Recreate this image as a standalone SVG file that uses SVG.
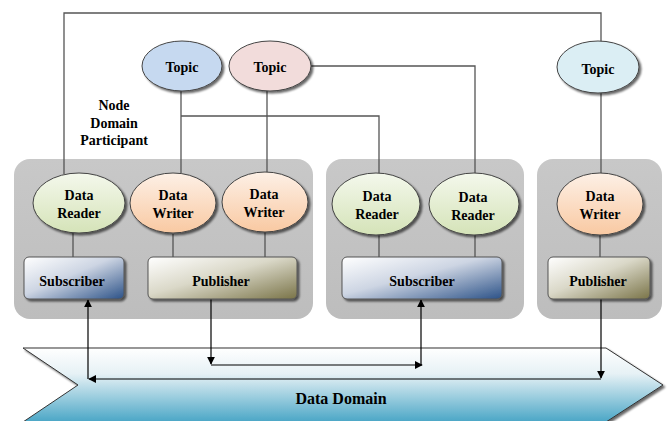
<svg xmlns="http://www.w3.org/2000/svg" width="669" height="421" viewBox="0 0 669 421">
<defs>
<style>
.t{font-family:"Liberation Serif","Times New Roman",serif;font-weight:bold;font-size:14px;fill:#000;text-anchor:middle}
.c{fill:none;stroke:#555;stroke-width:1.3}
.a{fill:none;stroke:#000;stroke-width:1.2}
.e{stroke:#444;stroke-width:1}
.b{stroke:#555;stroke-width:1}
.p{fill:url(#gPanel)}
</style>
<filter id="sh" x="-20%" y="-20%" width="150%" height="150%">
<feGaussianBlur in="SourceAlpha" stdDeviation="1.2"/>
<feOffset dx="2" dy="2" result="o"/>
<feComponentTransfer><feFuncA type="linear" slope="0.6"/></feComponentTransfer>
<feMerge><feMergeNode/><feMergeNode in="SourceGraphic"/></feMerge>
</filter>
<linearGradient id="gPanel" x1="0" y1="0" x2="0" y2="1"><stop offset="0" stop-color="#c8c8c8"/><stop offset="1" stop-color="#bdbdbd"/></linearGradient>
<linearGradient id="gDom" x1="0" y1="0" x2="0" y2="1"><stop offset="0" stop-color="#ffffff"/><stop offset="0.35" stop-color="#e6f1f5"/><stop offset="1" stop-color="#4aa6c6"/></linearGradient>
<linearGradient id="gRd" x1="0" y1="0" x2="0" y2="1"><stop offset="0" stop-color="#f4f8ec"/><stop offset="1" stop-color="#d5e3b8"/></linearGradient>
<linearGradient id="gWr" x1="0" y1="0" x2="0" y2="1"><stop offset="0" stop-color="#fdf0e6"/><stop offset="1" stop-color="#f9c9a2"/></linearGradient>
<linearGradient id="gSub" x1="0" y1="0" x2="1" y2="1"><stop offset="0" stop-color="#ffffff"/><stop offset="0.45" stop-color="#cdd5e3"/><stop offset="1" stop-color="#2c5288"/></linearGradient>
<linearGradient id="gPub" x1="0" y1="0" x2="1" y2="1"><stop offset="0" stop-color="#ffffff"/><stop offset="0.45" stop-color="#dad8c8"/><stop offset="1" stop-color="#7a7448"/></linearGradient>
<marker id="ah" viewBox="0 0 10 10" refX="9" refY="5" markerWidth="8" markerHeight="8" markerUnits="userSpaceOnUse" orient="auto"><path d="M0,0 L10,5 L0,10 z" fill="#000"/></marker>
</defs>
<rect width="669" height="421" fill="#fff"/>

<g id="data-domain">
<path d="M23,348 L606,348 L663,385 L606,422 L23,422 L78,385 Z" fill="url(#gDom)" stroke="#333" stroke-width="1" filter="url(#sh)"/>
<text class="t" x="341" y="404" style="font-size:16px">Data Domain</text>
</g>

<g id="panel-1"><rect class="p" x="14" y="159" width="299" height="160" rx="16"/></g>
<g id="panel-2"><rect class="p" x="326" y="159" width="198" height="160" rx="16"/></g>
<g id="panel-3"><rect class="p" x="537" y="159" width="125" height="160" rx="16"/></g>

<g id="label-participant">
<text class="t" x="114" y="110">Node</text>
<text class="t" x="114" y="128">Domain</text>
<text class="t" x="114" y="145">Participant</text>
</g>

<g id="connectors">
<polyline class="c" points="64,174 64,13 601,13 601,42"/>
<line class="c" x1="601" y1="93" x2="601" y2="174"/>
<line class="c" x1="181" y1="91" x2="181" y2="174"/>
<polyline class="c" points="181,116 379,116 379,174"/>
<line class="c" x1="267" y1="91" x2="267" y2="172"/>
<polyline class="c" points="311,66 475,66 475,174"/>
<line class="c" x1="73" y1="233" x2="73" y2="257"/>
<line class="c" x1="173" y1="234" x2="173" y2="257"/>
<line class="c" x1="265" y1="232" x2="265" y2="257"/>
<line class="c" x1="379" y1="234" x2="379" y2="257"/>
<line class="c" x1="475" y1="235" x2="475" y2="257"/>
<line class="c" x1="600" y1="234" x2="600" y2="257"/>
<line class="a" x1="601" y1="299" x2="601" y2="378" marker-end="url(#ah)"/>
<line class="a" x1="601" y1="379" x2="89" y2="379" marker-end="url(#ah)"/>
<line class="a" x1="88" y1="379" x2="88" y2="300" marker-end="url(#ah)"/>
<line class="a" x1="211" y1="299" x2="211" y2="364" marker-end="url(#ah)"/>
<line class="a" x1="211" y1="365" x2="422" y2="365" marker-end="url(#ah)"/>
<line class="a" x1="421" y1="365" x2="421" y2="300" marker-end="url(#ah)"/>
</g>

<g id="topic-1"><ellipse class="e" cx="182" cy="66" rx="40" ry="25" fill="#c6d9f0" filter="url(#sh)"/><text class="t" x="182" y="72">Topic</text></g>
<g id="topic-2"><ellipse class="e" cx="270" cy="66" rx="41" ry="25" fill="#f2dcdb" filter="url(#sh)"/><text class="t" x="270" y="72">Topic</text></g>
<g id="topic-3"><ellipse class="e" cx="598" cy="67" rx="41" ry="26" fill="#dbeef4" filter="url(#sh)"/><text class="t" x="598" y="74">Topic</text></g>

<g id="reader-1"><ellipse class="e" cx="79" cy="203" rx="46" ry="30" fill="url(#gRd)" filter="url(#sh)"/><text class="t" x="79" y="200">Data</text><text class="t" x="79" y="218">Reader</text></g>
<g id="writer-1"><ellipse class="e" cx="173" cy="203" rx="43" ry="30" fill="url(#gWr)" filter="url(#sh)"/><text class="t" x="173" y="200">Data</text><text class="t" x="173" y="218">Writer</text></g>
<g id="writer-2"><ellipse class="e" cx="265" cy="202" rx="43" ry="30" fill="url(#gWr)" filter="url(#sh)"/><text class="t" x="264" y="199">Data</text><text class="t" x="264" y="217">Writer</text></g>
<g id="subscriber-1"><rect class="b" x="24" y="257" width="100" height="42" rx="5" fill="url(#gSub)" filter="url(#sh)"/><text class="t" x="72" y="286">Subscriber</text></g>
<g id="publisher-1"><rect class="b" x="148" y="257" width="149" height="42" rx="5" fill="url(#gPub)" filter="url(#sh)"/><text class="t" x="221" y="286">Publisher</text></g>

<g id="reader-2"><ellipse class="e" cx="376" cy="204" rx="44" ry="31" fill="url(#gRd)" filter="url(#sh)"/><text class="t" x="377" y="201">Data</text><text class="t" x="377" y="219">Reader</text></g>
<g id="reader-3"><ellipse class="e" cx="474" cy="204" rx="45" ry="31" fill="url(#gRd)" filter="url(#sh)"/><text class="t" x="473" y="202">Data</text><text class="t" x="473" y="220">Reader</text></g>
<g id="subscriber-2"><rect class="b" x="342" y="257" width="160" height="42" rx="5" fill="url(#gSub)" filter="url(#sh)"/><text class="t" x="422" y="286">Subscriber</text></g>

<g id="writer-3"><ellipse class="e" cx="600" cy="204" rx="43" ry="31" fill="url(#gWr)" filter="url(#sh)"/><text class="t" x="600" y="201">Data</text><text class="t" x="600" y="219">Writer</text></g>
<g id="publisher-2"><rect class="b" x="548" y="257" width="102" height="42" rx="5" fill="url(#gPub)" filter="url(#sh)"/><text class="t" x="598" y="286">Publisher</text></g>
</svg>
